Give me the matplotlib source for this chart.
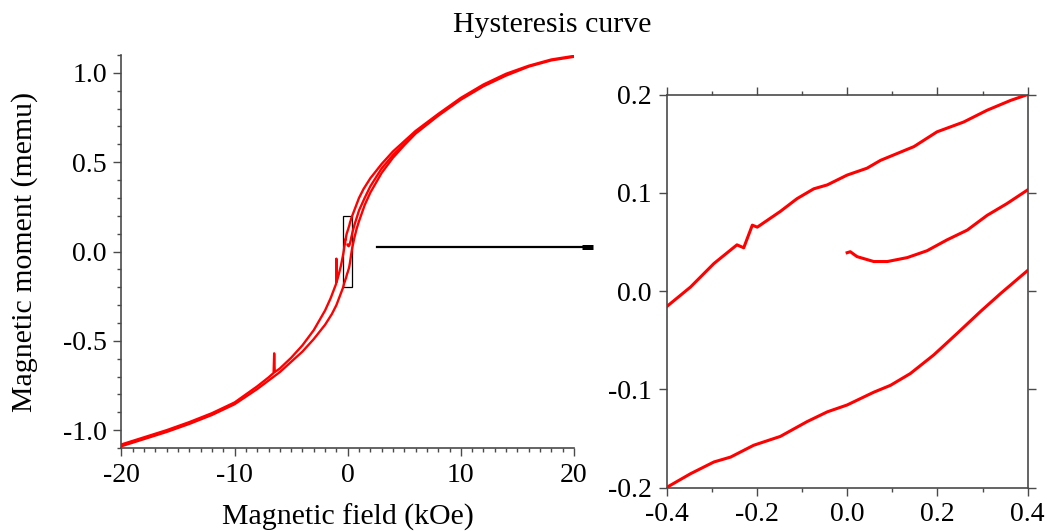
import numpy as np
import matplotlib.pyplot as plt
from matplotlib.lines import Line2D
from matplotlib.ticker import MultipleLocator

plt.rcParams['font.family'] = ['Liberation Serif', 'DejaVu Serif']

# descending branch (from +20 kOe to -20 kOe), outer part
desc_hi_H = [20, 18, 16, 14, 12, 10, 8, 6, 4, 3, 2, 1.4, 1.0, 0.7]
desc_hi_M = [1.095, 1.075, 1.04, 0.995, 0.935, 0.86, 0.77, 0.675, 0.56, 0.49, 0.41, 0.35, 0.30, 0.25]
desc_lo_H = [-0.6, -0.8, -0.98, -1.0, -1.02, -1.5, -2, -3, -4, -5, -6, -6.45, -6.5, -6.55, -7, -8, -10,
             -12, -14, -16, -18, -20]
desc_lo_M = [-0.08, -0.13, -0.17, -0.04, -0.18, -0.26, -0.33, -0.44, -0.525, -0.595, -0.655, -0.675,
             -0.57, -0.68, -0.705, -0.755, -0.845, -0.905, -0.955, -1.0, -1.04, -1.08]

# ascending branch (from -20 kOe to +20 kOe), outer part
asc_lo_H = [-20, -18, -16, -14, -12, -10, -8, -6, -4, -3, -2, -1.4, -1.0, -0.7]
asc_lo_M = [-1.09, -1.05, -1.01, -0.965, -0.915, -0.855, -0.77, -0.675, -0.56, -0.49, -0.41, -0.35,
            -0.30, -0.25]
asc_hi_H = [0.6, 0.8, 1.0, 1.5, 2, 3, 4, 5, 6, 8, 10, 12, 14, 16, 18, 20]
asc_hi_M = [0.08, 0.13, 0.17, 0.26, 0.33, 0.44, 0.525, 0.595, 0.66, 0.76, 0.85, 0.925, 0.985, 1.035,
            1.07, 1.09]

# virgin curve, outer part
virgin_hi_H = [0.6, 0.8, 1.0, 1.5, 2, 3, 4, 6, 8]
virgin_hi_M = [0.15, 0.19, 0.23, 0.30, 0.365, 0.465, 0.54, 0.665, 0.765]

# zoomed window (-0.4..0.4 kOe)
zoom_desc_H = [0.4, 0.362, 0.310, 0.258, 0.199, 0.148, 0.111, 0.074, 0.044, 0.0, -0.044, -0.074, -0.111,
               -0.148, -0.199, -0.210, -0.229, -0.244, -0.295, -0.347, -0.4]
zoom_desc_M = [0.2, 0.194, 0.184, 0.172, 0.162, 0.147, 0.140, 0.133, 0.125, 0.118, 0.108, 0.104, 0.094,
               0.081, 0.065, 0.067, 0.044, 0.047, 0.028, 0.004, -0.016]
zoom_asc_H = [-0.4, -0.347, -0.295, -0.258, -0.207, -0.148, -0.089, -0.044, 0.0, 0.059, 0.096, 0.140,
              0.192, 0.244, 0.295, 0.340, 0.4]
zoom_asc_M = [-0.2, -0.186, -0.174, -0.169, -0.157, -0.148, -0.133, -0.123, -0.116, -0.103, -0.096, -0.084,
              -0.065, -0.043, -0.021, -0.0025, 0.021]
zoom_virgin_H = [0.0, 0.007, 0.022, 0.059, 0.089, 0.133, 0.177, 0.221, 0.266, 0.310, 0.354, 0.4]
zoom_virgin_M = [0.039, 0.040, 0.035, 0.030, 0.030, 0.034, 0.041, 0.052, 0.062, 0.077, 0.089, 0.103]

red = '#ff0000'
spine_c = '#4a4a4a'

fig = plt.figure(figsize=(10.47, 5.31), dpi=100)
ax1 = fig.add_axes([0.1160, 0.1563, 0.4322, 0.7401])
ax2 = fig.add_axes([0.6366, 0.0819, 0.3450, 0.7401])

# full loop on the left
ax1.plot(desc_hi_H + zoom_desc_H + desc_lo_H, desc_hi_M + zoom_desc_M + desc_lo_M, color=red, lw=1.7)
ax1.plot(asc_lo_H + zoom_asc_H + asc_hi_H, asc_lo_M + zoom_asc_M + asc_hi_M, color=red, lw=1.7)
ax1.plot(zoom_virgin_H + virgin_hi_H, zoom_virgin_M + virgin_hi_M, color=red, lw=1.7)
ax1.add_patch(plt.Rectangle((-0.4, -0.2), 0.8, 0.4, fill=False, ec='black', lw=0.9))

ax1.set_xlim(-20, 20)
ax1.set_ylim(-1.1, 1.1)
ax1.xaxis.set_major_locator(MultipleLocator(10))
ax1.xaxis.set_minor_locator(MultipleLocator(1))
ax1.yaxis.set_major_locator(MultipleLocator(0.5))
ax1.yaxis.set_minor_locator(MultipleLocator(0.1))
ax1.spines['top'].set_visible(False)
ax1.spines['right'].set_visible(False)
ax1.set_xlabel('Magnetic field (kOe)', fontsize=21.5)
ax1.set_ylabel('Magnetic moment (memu)', fontsize=21.5)
ax1.xaxis.set_label_coords(0.5, -0.142)
ax1.yaxis.set_label_coords(-0.185, 0.5)
ax1.set_xticks([-20, -10, 0, 10, 20], ['-20', '-10', '0', '10', '20'])
ax1.set_yticks([-1.0, -0.5, 0.0, 0.5, 1.0], ['-1.0', '-0.5', '0.0', '0.5', '1.0'])

# zoom on the right
ax2.plot(zoom_desc_H, zoom_desc_M, color=red, lw=2.2)
ax2.plot(zoom_asc_H, zoom_asc_M, color=red, lw=2.2)
ax2.plot(zoom_virgin_H, zoom_virgin_M, color=red, lw=2.2)
ax2.set_xlim(-0.4, 0.4)
ax2.set_ylim(-0.2, 0.2)
ax2.set_xticks([-0.4, -0.2, 0.0, 0.2, 0.4], ['-0.4', '-0.2', '0.0', '0.2', '0.4'])
ax2.set_yticks([-0.2, -0.1, 0.0, 0.1, 0.2], ['-0.2', '-0.1', '0.0', '0.1', '0.2'])
ax2.xaxis.set_minor_locator(MultipleLocator(0.1))
ax2.tick_params(top=True, right=True, which='both')

for ax in (ax1, ax2):
    for s in ax.spines.values():
        s.set_color(spine_c)
        s.set_linewidth(1.2)
    ax.tick_params(which='major', direction='out', length=5.5, width=1.0, color=spine_c,
                   labelsize=20, pad=5)
    ax.tick_params(which='minor', direction='out', length=2.8, width=1.0, color=spine_c)

fig.text(0.527, 0.953, 'Hysteresis curve', ha='center', va='center', fontsize=21.5)

# arrow from the box to the zoom panel
y_ar = 1 - 246.7 / 531
fig.add_artist(Line2D([377 / 1047, 590 / 1047], [y_ar, y_ar], color='black', lw=1.6))
fig.add_artist(Line2D([582 / 1047, 593 / 1047], [y_ar, y_ar], color='black', lw=3.6, solid_capstyle='butt'))

fig.savefig('out.png', dpi=100)
